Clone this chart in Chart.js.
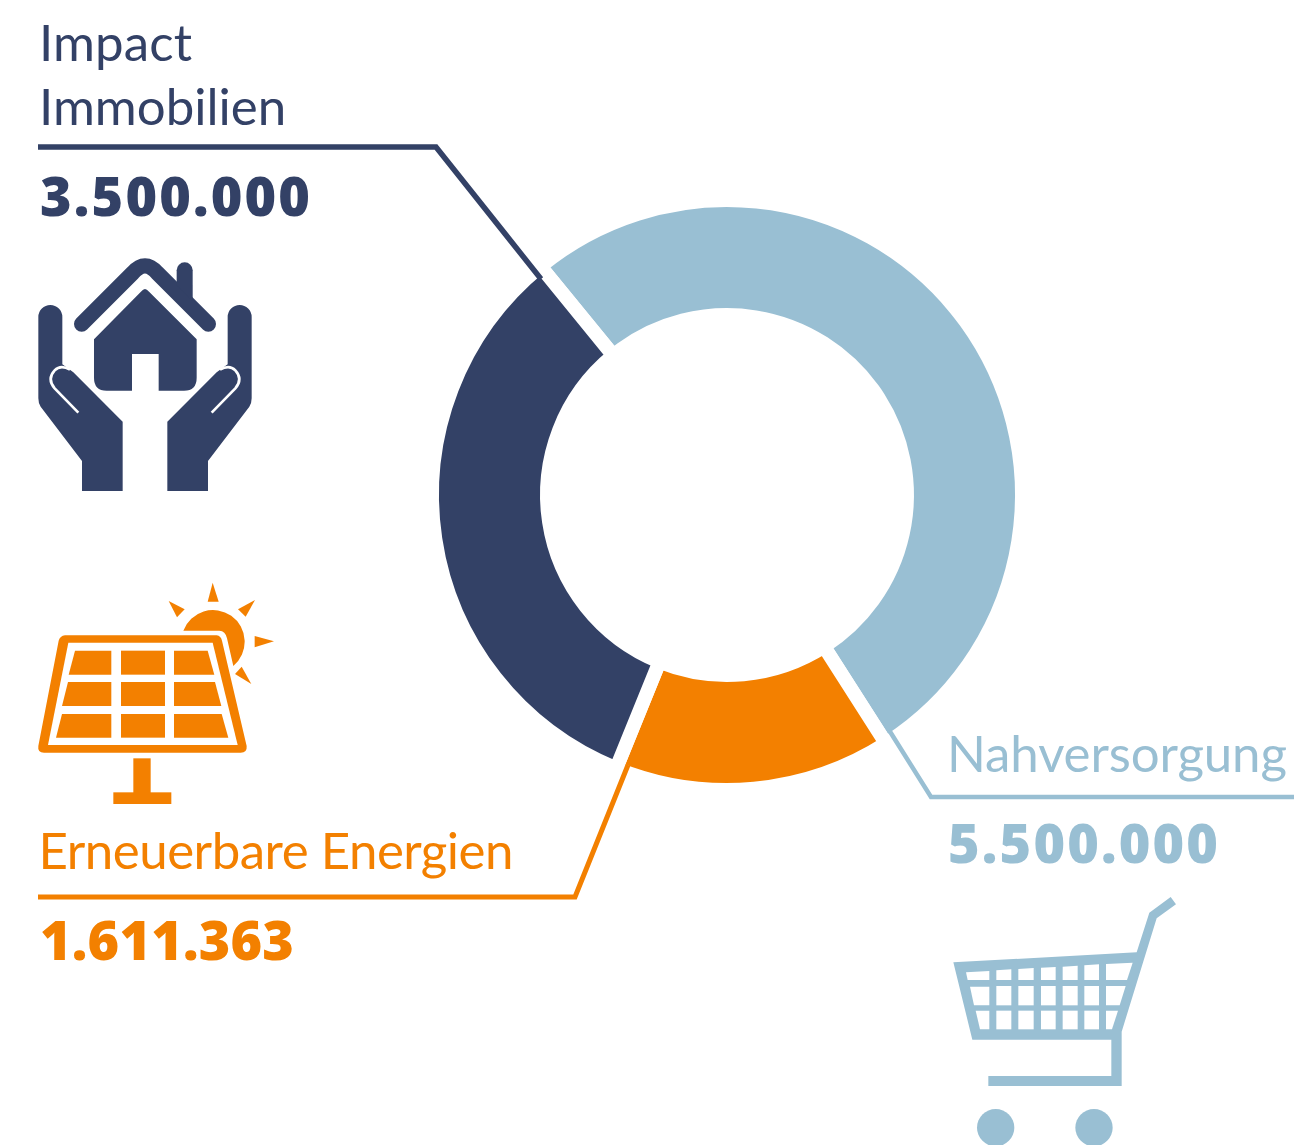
<!DOCTYPE html>
<html lang="de">
<head>
<meta charset="utf-8">
<title>Impact</title>
<script src="https://cdn.jsdelivr.net/npm/chart.js@4/dist/chart.umd.js"></script>
<style>
html,body{margin:0;padding:0;background:#fff;width:1294px;height:1145px;overflow:hidden}
#wrap{position:relative;width:1294px;height:1145px}
canvas{position:absolute;left:0;top:0}
svg{position:absolute;left:0;top:0}
.lab{font-family:Lato,sans-serif;font-weight:400;font-size:51px}
.num{font-family:"Open Sans",sans-serif;font-weight:800;font-size:54px}
</style>
</head>
<body>
<div id="wrap">
<canvas id="c" width="1294" height="1145"></canvas>
<svg id="o" width="1294" height="1145" viewBox="0 0 1294 1145" xmlns="http://www.w3.org/2000/svg">
  <!-- leader lines -->
  <polyline points="38,147 436,147 541,279" fill="none" stroke="#334166" stroke-width="5.5"/>
  <polyline points="38,897 575,897 628,765" fill="none" stroke="#F38000" stroke-width="5"/>
  <polyline points="1294,797 931,797 889,730" fill="none" stroke="#99BFD3" stroke-width="4.5"/>

  <!-- hands and house -->
  <g transform="translate(20,245) scale(0.33333)" fill="#334166">
    <path d="M185,237 L338,84 Q375,41 412,84 L565,237" fill="none" stroke="#334166" stroke-width="46" stroke-linecap="round" stroke-linejoin="round"/>
    <path d="M470,76 a24,24 0 0 1 48,0 L518,170 L470,120 Z"/>
    <path d="M375,132 Q380,132 388,141 L530,283 L530,398 Q530,437 492,437 L416,437 L416,327 L336,327 L336,437 L260,437 Q222,437 222,398 L222,283 L362,141 Q370,132 375,132 Z"/>
    <g>
      <path d="M55,216 a36,36 0 0 1 72,0 L127,358 L160,382 L308,530 L308,738 L186,738 L186,648 L62,485 Q55,475 55,460 Z"/>
      <path d="M175,503 L104,430 Q80,402 104,376 Q122,358 150,374" fill="none" stroke="#fff" stroke-width="8"/>
    </g>
    <g transform="translate(750,0) scale(-1,1)">
      <path d="M55,216 a36,36 0 0 1 72,0 L127,358 L160,382 L308,530 L308,738 L186,738 L186,648 L62,485 Q55,475 55,460 Z"/>
      <path d="M175,503 L104,430 Q80,402 104,376 Q122,358 150,374" fill="none" stroke="#fff" stroke-width="8"/>
    </g>
  </g>

  <!-- solar panel -->
  <g transform="translate(20,570) scale(0.33333)" fill="#F38000">
    <path d="M135,196 L590,196 Q603,198 606,212 L680,528 Q682,548 662,548 L72,548 Q52,548 55,528 L116,212 Q120,198 135,196 Z"/>
    <polygon points="145,218 578,218 653,525 84,525" fill="#fff"/>
    <polygon points="165,242 274,242 274,314 146,314"/>
    <rect x="303" y="242" width="132" height="72"/>
    <polygon points="462,242 563,242 583,314 462,314"/>
    <polygon points="144,336 274,336 274,408 126,408"/>
    <rect x="303" y="336" width="132" height="72"/>
    <polygon points="462,336 585,336 604,408 462,408"/>
    <polygon points="126,432 274,432 274,503 108,503"/>
    <rect x="303" y="432" width="132" height="71"/>
    <polygon points="462,432 605,432 625,503 462,503"/>
    <rect x="340" y="565" width="52" height="105"/>
    <rect x="280" y="667" width="174" height="35"/>
    <path d="M490,182 A95,95 0 1 1 640,288 L621,205 Q616,182 598,182 Z"/>
    <polygon points="578,38 596,95 563,95"/>
    <polygon points="446,93 494,118 471,142"/>
    <polygon points="705,90 677,140 654,118"/>
    <polygon points="762,214 704,198 704,232"/>
    <polygon points="694,342 645,312 665,290"/>
  </g>

  <!-- shopping cart -->
  <g transform="translate(930,885) scale(0.33333)" fill="#99BFD3">
    <path d="M70,232 L620,202 L658,83 L722,36 L738,58 L680,100 L575,440 L575,603 L175,603 L175,573 L544,573 L544,464 L127,464 Z"/>
    <g fill="#fff">
      <polygon points="108,262 178,258 178,285 113,285"/>
      <polygon points="199,256 244,253 244,285 199,285"/>
      <polygon points="265,252 311,249 311,285 265,285"/>
      <polygon points="333,248 377,246 377,285 333,285"/>
      <polygon points="398,245 443,242 443,285 398,285"/>
      <polygon points="463,241 507,238 507,285 463,285"/>
      <polygon points="528,237 608,233 591,285 528,285"/>
      <polygon points="120,305 178,305 178,361 132,361"/>
      <rect x="199" y="303" width="45" height="58"/>
      <rect x="265" y="303" width="46" height="58"/>
      <rect x="333" y="303" width="44" height="58"/>
      <rect x="398" y="303" width="45" height="58"/>
      <rect x="463" y="303" width="44" height="58"/>
      <polygon points="528,303 587,303 569,361 528,361"/>
      <polygon points="137,377 178,377 178,433 150,433"/>
      <rect x="199" y="377" width="45" height="56"/>
      <rect x="265" y="377" width="46" height="56"/>
      <rect x="333" y="377" width="44" height="56"/>
      <rect x="398" y="377" width="45" height="56"/>
      <rect x="463" y="377" width="44" height="56"/>
      <polygon points="528,377 564,377 546,433 528,433"/>
    </g>
    <circle cx="197" cy="728" r="56"/>
    <circle cx="492" cy="728" r="56"/>
  </g>

  <!-- texts -->
  <text class="lab" x="39" y="61" fill="#334166" textLength="153" lengthAdjust="spacing">Impact</text>
  <text class="lab" x="39" y="125" fill="#334166">Immobilien</text>
  <text class="lab" x="38.5" y="869" fill="#F38000" id="tErn" textLength="475" lengthAdjust="spacing"></text>
  <text class="lab" x="947" y="771.5" fill="#99BFD3" id="tNah" textLength="340" lengthAdjust="spacing"></text>
  <text class="num" x="40" y="215.5" fill="#334166" id="nImp" textLength="270" lengthAdjust="spacing"></text>
  <text class="num" x="40" y="960" fill="#F38000" id="nErn" textLength="254" lengthAdjust="spacing"></text>
  <text class="num" x="948" y="863" fill="#99BFD3" id="nNah" textLength="270" lengthAdjust="spacing"></text>
</svg>
</div>
<script>
const categories = ["Nahversorgung", "Erneuerbare Energien", "Impact Immobilien"];
const amounts = [5500000, 1611363, 3500000];
const sliceColors = ["#99BFD3", "#F38000", "#334166"];

const fmt = n => n.toLocaleString("de-DE");
document.getElementById("tNah").textContent = categories[0];
document.getElementById("tErn").textContent = categories[1];
document.getElementById("nNah").textContent = fmt(amounts[0]);
document.getElementById("nErn").textContent = fmt(amounts[1]);
document.getElementById("nImp").textContent = fmt(amounts[2]);

new Chart(document.getElementById("c"), {
  type: "doughnut",
  data: {
    labels: categories,
    datasets: [{ data: amounts, backgroundColor: sliceColors, borderColor: "#fff", borderWidth: 14, borderAlign: "center", hoverOffset: 0 }]
  },
  options: {
    responsive: false,
    animation: false,
    rotation: -39.2,
    cutout: "61%",
    layout: { padding: { left: 425, right: 265, top: 193, bottom: 348 } },
    plugins: { legend: { display: false }, tooltip: { enabled: false }, title: { display: false } }
  }
});
</script>
</body>
</html>
